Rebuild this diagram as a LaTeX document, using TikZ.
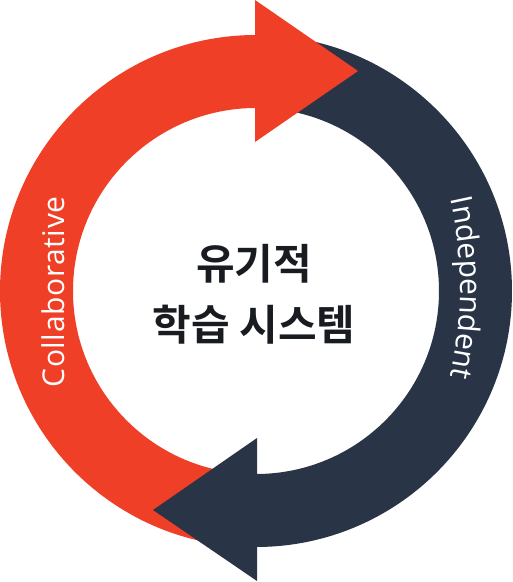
\documentclass[tikz,border=0pt]{standalone}
\usepackage{fontspec}
\newfontfamily\krfont{Noto Sans CJK KR}[BoldFont={Noto Sans CJK KR Bold}]
\newfontfamily\lblfont{Open Sans}[LetterSpace=2]
\usetikzlibrary{decorations.text}
\definecolor{arrred}{RGB}{240,63,39}
\definecolor{arrnavy}{RGB}{41,53,71}
\definecolor{txtdark}{RGB}{24,27,32}
\tikzset{
  centertext/.style={anchor=base, text=txtdark, font=\krfont\bfseries\fontsize{42}{50}\selectfont, inner sep=0pt},
  bandlabel/.style={text=white, font=\lblfont\fontsize{30}{32}\selectfont, inner sep=0pt}
}
\begin{document}
\begin{tikzpicture}[x=1pt,y=1pt]
\useasboundingbox (0,0) rectangle (513,582);
% bands
\fill[arrred] (256,547) arc[start angle=90,end angle=270,radius=256] -- (256,108) arc[start angle=270,end angle=90,radius=183] -- cycle;
\fill[arrnavy] (256,547) arc[start angle=90,end angle=-90,radius=256] -- (256,108) arc[start angle=-90,end angle=90,radius=183] -- cycle;
% heads
\fill[arrred] (255,582) -- (358,511) -- (255,440) -- cycle;
\fill[arrnavy] (257,144) -- (153,72) -- (257,1) -- cycle;
% centre text
\node[centertext] (t1) at (254,302) {유기적};
\node[centertext] (t2) at (254,241) {학습 시스템};
% labels
\node[bandlabel, rotate=90, anchor=base] (collab) at (64,290) {Collaborative};
\path[decorate, decoration={text along path, text align=center, text color=white,
  text={|\lblfont\fontsize{30}{32}\selectfont|Independent}}]
  (435.3,434.2) arc[start angle=20,end angle=-20,radius=410];
\end{tikzpicture}
\end{document}
